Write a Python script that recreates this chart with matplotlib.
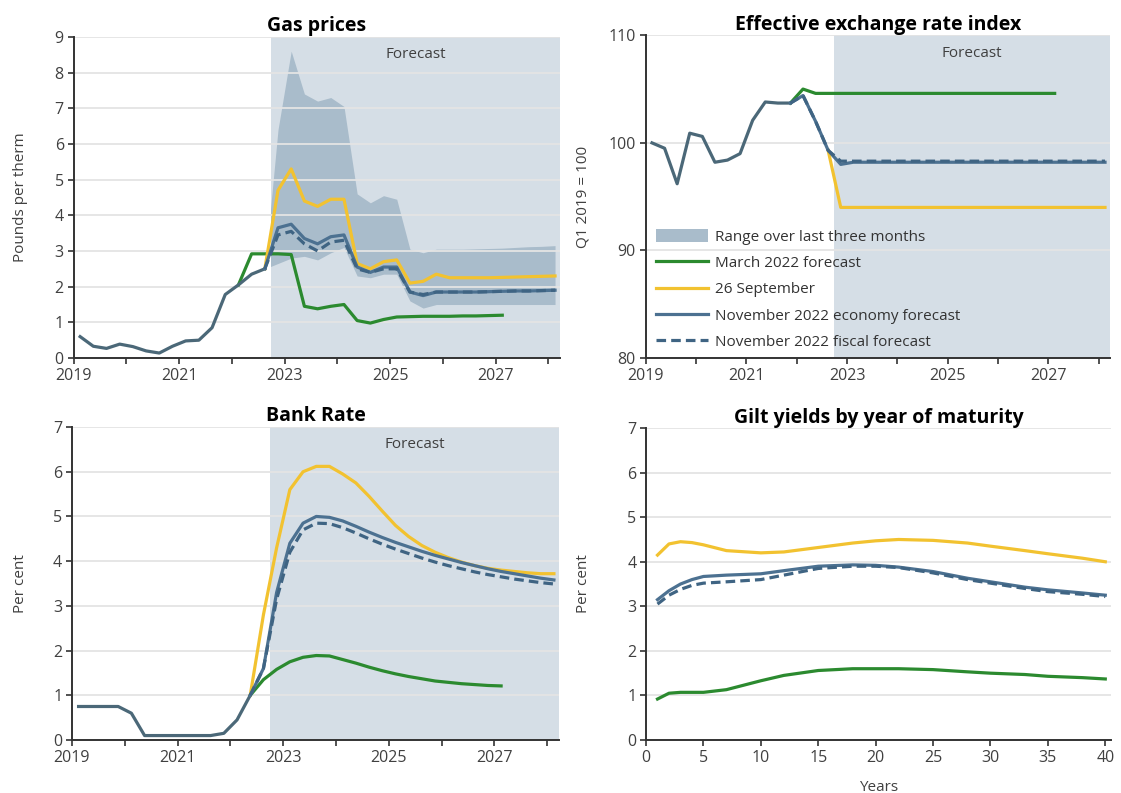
import numpy as np
import matplotlib
matplotlib.use("Agg")
import matplotlib.pyplot as plt
from matplotlib.patches import Patch
from matplotlib.lines import Line2D

plt.rcParams['font.family'] = ['Open Sans', 'DejaVu Sans']

# colours
GREEN = '#2b8a2f'
YELLOW = '#f2c230'
BLUE = '#4c7191'
DASH = '#3f6483'
HIST = '#4b6878'
SHADE = '#d5dee6'
BAND = '#a9bccb'
GRID = '#e4e4e4'
AXC = '#333333'

FC_START = 2022.75  # start of forecast period


def qpos(start, n):
    # mid-quarter positions, start given as first quarter (year + (q-1)/4)
    return start + 0.125 + 0.25 * np.arange(n)


# ---------------- Gas prices (pounds per therm) ----------------
gas_hist = [0.60, 0.33, 0.27, 0.39, 0.32, 0.20, 0.14, 0.33, 0.48, 0.50,
            0.85, 1.78, 2.05, 2.35, 2.50]                       # 2019Q1-2022Q3
gas_march = [2.05, 2.92, 2.92, 2.92, 2.90, 1.45, 1.38, 1.45, 1.50, 1.05,
             0.98, 1.08, 1.15, 1.16, 1.17, 1.17, 1.17, 1.18, 1.18, 1.19, 1.20]  # 2022Q1-2027Q1
gas_sept = [2.50, 4.70, 5.30, 4.40, 4.25, 4.45, 4.45, 2.65, 2.50, 2.70, 2.75,
            2.10, 2.15, 2.35, 2.25, 2.25, 2.25, 2.25, 2.26, 2.27, 2.28, 2.29, 2.30]  # 2022Q3-2028Q1
gas_econ = [2.50, 3.65, 3.75, 3.35, 3.20, 3.40, 3.45, 2.55, 2.40, 2.55, 2.55,
            1.85, 1.75, 1.85, 1.85, 1.85, 1.85, 1.86, 1.87, 1.88, 1.88, 1.89, 1.90]
gas_fiscal = [2.50, 3.45, 3.55, 3.20, 3.00, 3.25, 3.30, 2.50, 2.40, 2.50, 2.50,
              1.85, 1.78, 1.85, 1.85, 1.85, 1.85, 1.86, 1.87, 1.88, 1.88, 1.89, 1.90]
gas_band_hi = [2.50, 6.40, 8.60, 7.40, 7.20, 7.30, 7.05, 4.60, 4.35, 4.55, 4.45,
               3.05, 2.95, 3.05, 3.05, 3.05, 3.06, 3.07, 3.08, 3.10, 3.12, 3.13, 3.15]
gas_band_lo = [2.50, 2.65, 2.80, 2.85, 2.75, 2.95, 3.10, 2.30, 2.25, 2.35, 2.35,
               1.60, 1.40, 1.50, 1.50, 1.50, 1.50, 1.50, 1.50, 1.50, 1.50, 1.50, 1.50]

# ---------------- Effective exchange rate (Q1 2019 = 100) ----------------
eer_hist = [100.0, 99.5, 96.2, 100.9, 100.6, 98.2, 98.4, 99.0, 102.1, 103.8,
            103.7, 103.7]                                        # 2019Q1-2021Q4
eer_march = [103.7, 105.0, 104.6, 104.6, 104.6, 104.6, 104.6, 104.6, 104.6, 104.6,
             104.6, 104.6, 104.6, 104.6, 104.6, 104.6, 104.6, 104.6, 104.6, 104.6,
             104.6, 104.6]                                       # 2021Q4-2027Q1
eer_econ = [103.7, 104.4, 102.0, 99.3, 98.0, 98.2, 98.2, 98.2, 98.2, 98.2, 98.2,
            98.2, 98.2, 98.2, 98.2, 98.2, 98.2, 98.2, 98.2, 98.2, 98.2, 98.2, 98.2,
            98.2, 98.2, 98.2]                                    # 2021Q4-2028Q1
eer_fiscal = [103.7, 104.4, 102.0, 99.3, 98.3, 98.3, 98.3, 98.3, 98.3, 98.3, 98.3,
              98.3, 98.3, 98.3, 98.3, 98.3, 98.3, 98.3, 98.3, 98.3, 98.3, 98.3, 98.3,
              98.3, 98.3, 98.3]
eer_sept = [99.3, 94.0, 94.0, 94.0, 94.0, 94.0, 94.0, 94.0, 94.0, 94.0, 94.0, 94.0,
            94.0, 94.0, 94.0, 94.0, 94.0, 94.0, 94.0, 94.0, 94.0, 94.0, 94.0]  # 2022Q3-2028Q1

# ---------------- Bank Rate (per cent) ----------------
br_hist = [0.75, 0.75, 0.75, 0.75, 0.60, 0.10, 0.10, 0.10, 0.10, 0.10, 0.10,
           0.15, 0.45, 1.00]                                     # 2019Q1-2022Q2
br_march = [1.00, 1.35, 1.58, 1.75, 1.85, 1.89, 1.88, 1.80, 1.72, 1.63, 1.55,
            1.48, 1.42, 1.37, 1.32, 1.29, 1.26, 1.24, 1.22, 1.21]  # 2022Q2-2027Q1
br_sept = [1.00, 2.80, 4.30, 5.60, 6.00, 6.12, 6.12, 5.95, 5.75, 5.45, 5.12,
           4.80, 4.55, 4.35, 4.20, 4.08, 3.98, 3.90, 3.84, 3.80, 3.77, 3.74,
           3.72, 3.72]                                           # 2022Q2-2028Q1
br_econ = [1.00, 1.60, 3.30, 4.40, 4.85, 5.00, 4.98, 4.90, 4.78, 4.65, 4.53,
           4.42, 4.32, 4.22, 4.13, 4.05, 3.97, 3.90, 3.83, 3.77, 3.72, 3.67,
           3.62, 3.58]
br_fiscal = [1.00, 1.60, 3.15, 4.20, 4.70, 4.85, 4.84, 4.75, 4.63, 4.50, 4.38,
             4.27, 4.17, 4.07, 3.98, 3.90, 3.83, 3.76, 3.70, 3.65, 3.60, 3.56,
             3.52, 3.49]

# ---------------- Gilt yields by year of maturity ----------------
gilt_years = [1, 2, 3, 4, 5, 7, 10, 12, 15, 18, 20, 22, 25, 28, 30, 33, 35, 38, 40]
gilt_sept = [4.15, 4.40, 4.45, 4.43, 4.38, 4.25, 4.20, 4.22, 4.32, 4.42, 4.47,
             4.50, 4.48, 4.42, 4.35, 4.25, 4.18, 4.08, 4.00]
gilt_econ = [3.15, 3.35, 3.50, 3.60, 3.67, 3.70, 3.73, 3.80, 3.90, 3.93, 3.92,
             3.88, 3.78, 3.63, 3.55, 3.43, 3.37, 3.30, 3.25]
gilt_fiscal = [3.05, 3.25, 3.38, 3.47, 3.52, 3.55, 3.60, 3.70, 3.85, 3.90, 3.90,
               3.87, 3.75, 3.60, 3.52, 3.40, 3.33, 3.27, 3.22]
gilt_march = [0.92, 1.05, 1.07, 1.07, 1.07, 1.13, 1.33, 1.45, 1.56, 1.60, 1.60,
              1.60, 1.58, 1.53, 1.50, 1.47, 1.43, 1.40, 1.37]


fig = plt.figure(figsize=(11.21, 7.93), dpi=100)
ax_gas = fig.add_axes([0.0656, 0.5485, 0.434, 0.405])
ax_eer = fig.add_axes([0.576, 0.5485, 0.414, 0.407])
ax_br = fig.add_axes([0.0642, 0.0668, 0.4344, 0.3947])
ax_gilt = fig.add_axes([0.5763, 0.0668, 0.4148, 0.3934])

LW = 2.3


def style(ax, title, ylabel, yticks, ylim, label_x):
    ax.set_ylim(*ylim)
    ax.set_yticks(yticks)
    for s in ['top', 'right']:
        ax.spines[s].set_visible(False)
    for s in ['left', 'bottom']:
        ax.spines[s].set_color(AXC)
        ax.spines[s].set_linewidth(1.4)
        ax.spines[s].set_zorder(6)
    ax.tick_params(direction='out', length=4, width=1.2, color=AXC,
                   labelsize=11.5, labelcolor='#404040', pad=3)
    ax.yaxis.grid(True, color=GRID, lw=1.3, zorder=2)
    ax.set_axisbelow(False)
    ax.set_title(title, fontsize=14, fontweight='bold', pad=4)
    ax.set_ylabel(ylabel, fontsize=11, color='#404040')
    ax.yaxis.set_label_coords(label_x, 0.5)


def time_axis(ax):
    ax.set_xlim(2019, 2028.22)
    ax.set_xticks(np.arange(2019, 2029))
    ax.set_xticklabels([str(y) if (y - 2019) % 2 == 0 else '' for y in range(2019, 2029)])
    span = ax.axvspan(FC_START, 2028.5, color=SHADE, lw=0, zorder=0)
    lo, hi = ax.get_ylim()
    ax.text((FC_START + 2028.22) / 2, hi - (hi - lo) * 0.055, 'Forecast',
            ha='center', va='center', fontsize=11, color='#404040', zorder=7)
    return span


# Gas prices
style(ax_gas, 'Gas prices', 'Pounds per therm', range(0, 10), (0, 9), -0.093)
span = time_axis(ax_gas)
x = qpos(2022.5, len(gas_band_hi))
band = ax_gas.fill_between(x, gas_band_lo, gas_band_hi, color=BAND, lw=0, zorder=1)
band.set_clip_path(span)
ax_gas.plot(qpos(2019, len(gas_hist)), gas_hist, color=HIST, lw=LW, zorder=4)
ax_gas.plot(qpos(2022, len(gas_march)), gas_march, color=GREEN, lw=LW, zorder=3)
ax_gas.plot(qpos(2022.5, len(gas_sept)), gas_sept, color=YELLOW, lw=LW, zorder=3)
ax_gas.plot(qpos(2022.5, len(gas_econ)), gas_econ, color=BLUE, lw=LW, zorder=4)
ax_gas.plot(qpos(2022.5, len(gas_fiscal)), gas_fiscal, color=DASH, lw=LW,
            ls=(0, (3, 1.6)), zorder=5)

# Effective exchange rate
style(ax_eer, 'Effective exchange rate index', 'Q1 2019 = 100', [80, 90, 100, 110],
      (80, 110), -0.12)
time_axis(ax_eer)
ax_eer.plot(qpos(2019, len(eer_hist)), eer_hist, color=HIST, lw=LW, zorder=4)
ax_eer.plot(qpos(2021.75, len(eer_march)), eer_march, color=GREEN, lw=LW, zorder=3)
ax_eer.plot(qpos(2022.5, len(eer_sept)), eer_sept, color=YELLOW, lw=LW, zorder=3)
ax_eer.plot(qpos(2021.75, len(eer_econ)), eer_econ, color=BLUE, lw=LW, zorder=4)
ax_eer.plot(qpos(2021.75, len(eer_fiscal)), eer_fiscal, color=DASH, lw=LW,
            ls=(0, (3, 1.6)), zorder=5)

handles = [Patch(facecolor=BAND, edgecolor='none'),
           Line2D([], [], color=GREEN, lw=LW),
           Line2D([], [], color=YELLOW, lw=LW),
           Line2D([], [], color=BLUE, lw=LW),
           Line2D([], [], color=DASH, lw=LW, ls=(0, (3, 1.6)))]
labels = ['Range over last three months', 'March 2022 forecast', '26 September',
          'November 2022 economy forecast', 'November 2022 fiscal forecast']
leg = ax_eer.legend(handles, labels, loc='lower left', bbox_to_anchor=(0.022, 0.025),
                    frameon=False, fontsize=11, handlelength=3.4, handleheight=0.9,
                    handletextpad=0.45, labelspacing=0.7, borderpad=0, borderaxespad=0)
for t in leg.get_texts():
    t.set_color('#333333')
leg.set_zorder(8)

# Bank Rate
style(ax_br, 'Bank Rate', 'Per cent', range(0, 8), (0, 7), -0.09)
time_axis(ax_br)
ax_br.plot(qpos(2019, len(br_hist)), br_hist, color=HIST, lw=LW, zorder=4)
ax_br.plot(qpos(2022.25, len(br_march)), br_march, color=GREEN, lw=LW, zorder=3)
ax_br.plot(qpos(2022.25, len(br_sept)), br_sept, color=YELLOW, lw=LW, zorder=3)
ax_br.plot(qpos(2022.25, len(br_econ)), br_econ, color=BLUE, lw=LW, zorder=4)
ax_br.plot(qpos(2022.25, len(br_fiscal)), br_fiscal, color=DASH, lw=LW,
           ls=(0, (3, 1.6)), zorder=5)

# Gilt yields
style(ax_gilt, 'Gilt yields by year of maturity', 'Per cent', range(0, 8), (0, 7), -0.118)
ax_gilt.set_xlim(0, 40.5)
ax_gilt.set_xticks(range(0, 41, 5))
ax_gilt.set_xlabel('Years', fontsize=11, color='#404040', labelpad=10)
ax_gilt.plot(gilt_years, gilt_march, color=GREEN, lw=LW, zorder=3)
ax_gilt.plot(gilt_years, gilt_sept, color=YELLOW, lw=LW, zorder=3)
ax_gilt.plot(gilt_years, gilt_econ, color=BLUE, lw=LW, zorder=4)
ax_gilt.plot(gilt_years, gilt_fiscal, color=DASH, lw=LW, ls=(0, (3, 1.6)), zorder=5)

fig.savefig('out.png', dpi=100)
